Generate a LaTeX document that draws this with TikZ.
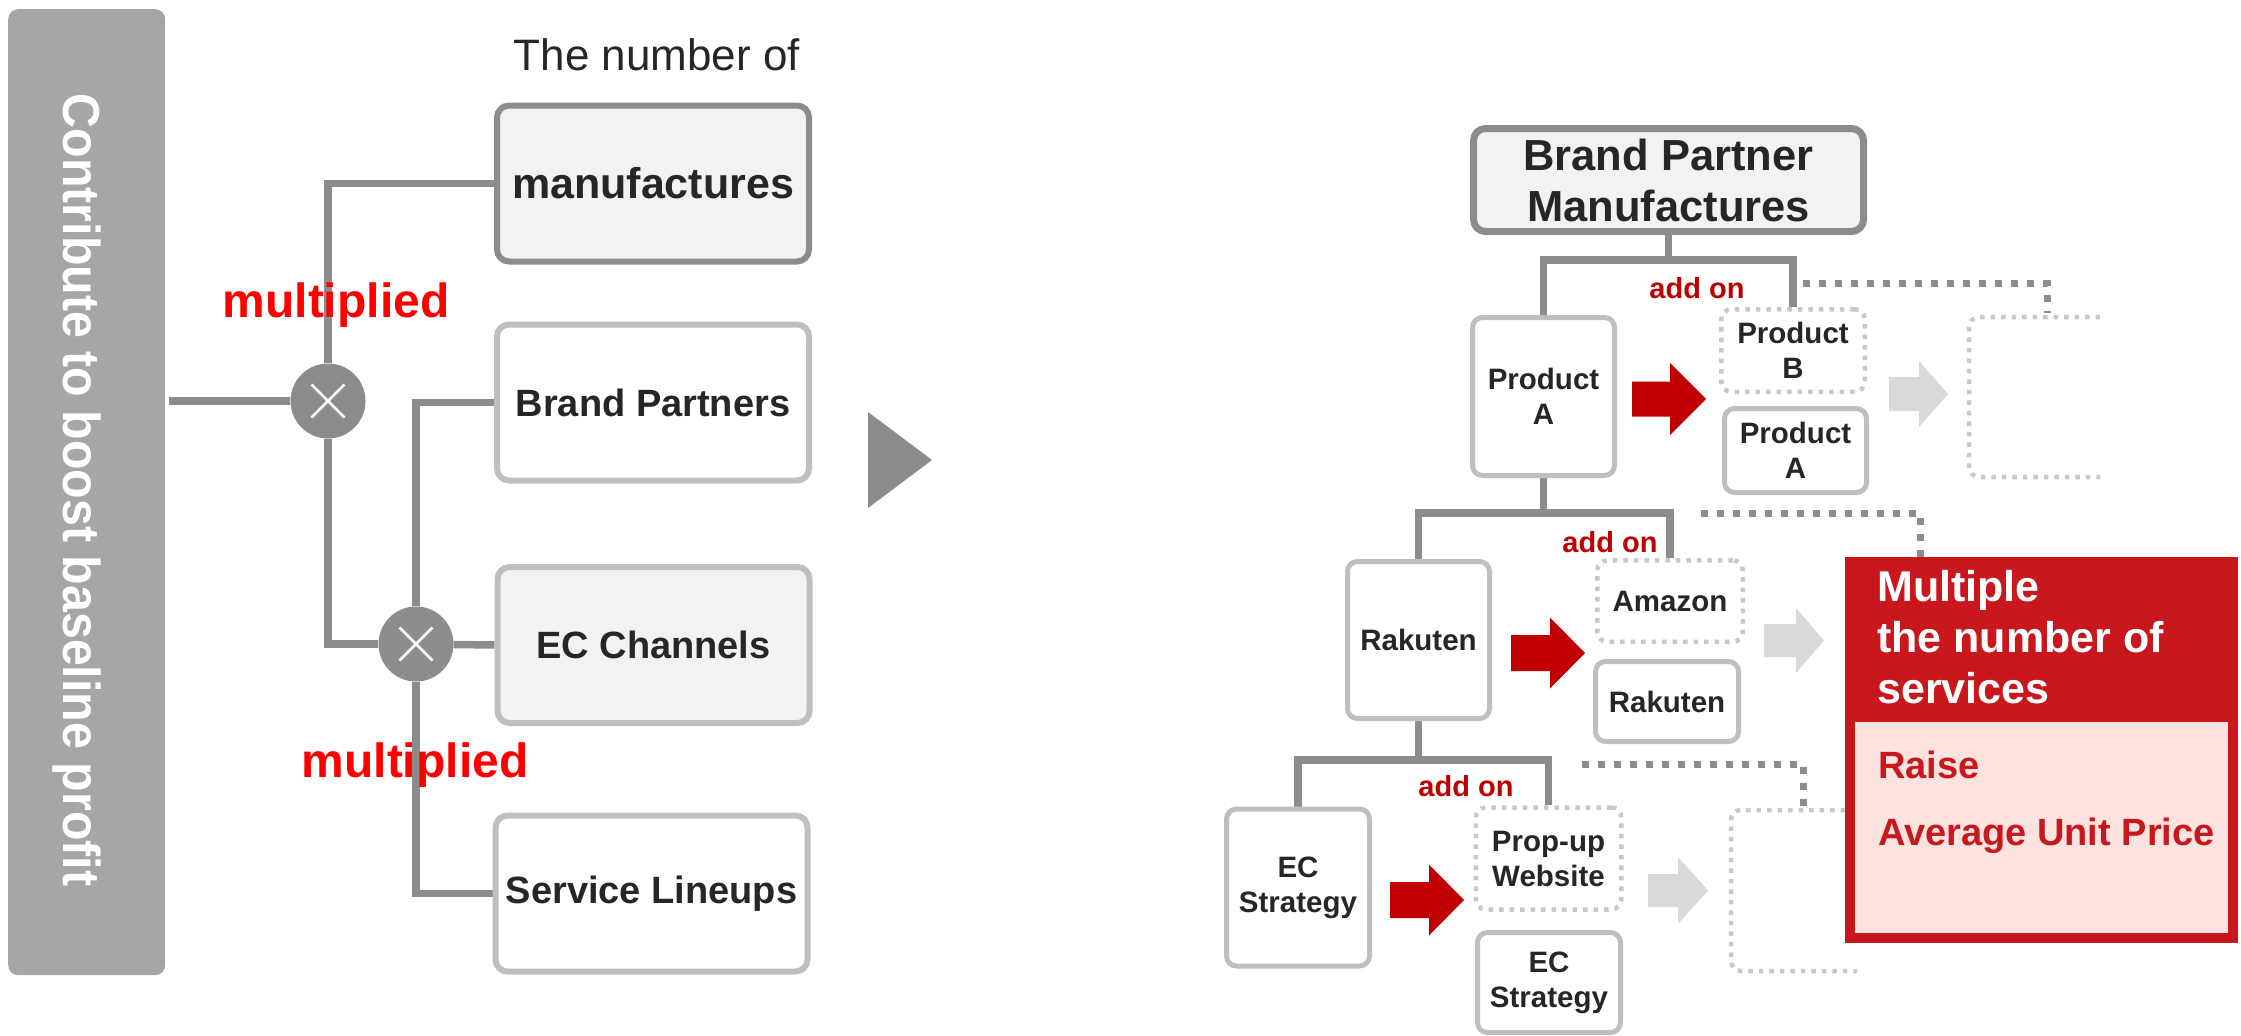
\documentclass[tikz,border=0pt]{standalone}
\usepackage{fontspec}
\setmainfont{Liberation Sans}
\usetikzlibrary{backgrounds}

\definecolor{barGray}{HTML}{A6A6A6}
\definecolor{lineGray}{HTML}{8C8C8C}
\definecolor{edgeLight}{HTML}{BFBFBF}
\definecolor{dotLight}{HTML}{C8C8C8}
\definecolor{boxFill}{HTML}{F2F2F2}
\definecolor{ink}{HTML}{262626}
\definecolor{addRed}{HTML}{C00000}
\definecolor{arrowGray}{HTML}{D9D9D9}
\definecolor{panelRed}{HTML}{C9171E}
\definecolor{panelPink}{HTML}{FDE3DF}

\newcommand\fsz[2]{\fontsize{#1}{#2}\selectfont}
% block arrow: colour, tail x, head start x, tip x, centre y, shaft half height, head half height
\newcommand\blockarrow[7]{%
  \fill[#1] (#2,#5-#6) -- (#3,#5-#6) -- (#3,#5-#7) -- (#4,#5) -- (#3,#5+#7) -- (#3,#5+#6) -- (#2,#5+#6) -- cycle;}

\begin{document}
\begin{tikzpicture}[x=1pt,y=-1pt,
  tree/.style={draw=lineGray, line width=7.5pt},
  darkdots/.style={draw=lineGray, line width=7pt, dash pattern=on 7pt off 9pt},
  lightdots/.style={draw=dotLight, line width=4.5pt, dash pattern=on 4.5pt off 6pt},
  bigbox/.style={rectangle, rounded corners=12pt, line width=6pt, minimum width=312pt,
    minimum height=156pt, inner sep=0pt, align=center, font=\bfseries\fsz{38}{44}, text=ink},
  keybox/.style={bigbox, draw=lineGray, fill=boxFill},
  plainbox/.style={bigbox, draw=edgeLight, fill=white},
  shadedbox/.style={bigbox, draw=edgeLight, fill=boxFill},
  itembox/.style={rectangle, rounded corners=10pt, line width=5pt, draw=edgeLight, fill=white,
    inner sep=0pt, align=center, font=\bfseries\fsz{29.5}{35}, text=ink},
  newbox/.style={itembox, lightdots, fill=white},
  opcircle/.style={circle, fill=lineGray, minimum size=75pt, inner sep=0pt},
  addon/.style={font=\bfseries\fsz{29}{34}, text=addRed, inner sep=0pt, anchor=base},
  mult/.style={font=\bfseries\fsz{48}{56}, text=red, inner sep=0pt, anchor=base},
  cross/.style={draw=white, line width=2.5pt}
]
\useasboundingbox (0,0) rectangle (2241,1036);

% ---------- left: profit tree ----------
\node[fill=barGray, rounded corners=10pt, minimum width=157pt, minimum height=966pt,
      inner sep=0pt, anchor=north west] (bar) at (8,9) {};
\node[rotate=-90, anchor=base, text=white, font=\bfseries\fsz{52}{60}, inner sep=0pt] (bartext) at (63,490)
  {\scalebox{0.93}[1]{Contribute to boost baseline profit}};

\node[font=\fsz{44}{50}, text=ink, inner sep=0pt, anchor=base] (caption) at (657,70) {The number of};

\node[keybox, font=\bfseries\fsz{43}{50}] (manu) at (653,183.5) {manufactures};
\node[plainbox] (bp) at (653,402.5) {Brand Partners};
\node[shadedbox] (ec) at (653.5,645) {EC Channels};
\node[plainbox] (sl) at (651.5,893.5) {Service Lineups};

\node[opcircle] (c1) at (328,401) {};
\node[opcircle] (c2) at (416,644) {};

\begin{scope}[on background layer]
  \draw[tree] ([xshift=4pt]bar.east |- c1) -- (c1);
  \draw[tree] (c1) |- (manu.west);
  \draw[tree] (c1) |- (c2);
  \draw[tree] (c2) |- (bp.west);
  \draw[tree] (c2) -- (ec.west);
  \draw[tree] (c2) |- (sl.west);
\end{scope}

\foreach \c in {c1,c2} {
  \draw[cross] ([shift={(-16.5,-16.5)}]\c.center) -- ([shift={(16.5,16.5)}]\c.center);
  \draw[cross] ([shift={(-16.5,16.5)}]\c.center) -- ([shift={(16.5,-16.5)}]\c.center);
}

\node[mult] (mult1) at (336,317) {multiplied};
\node[mult] (mult2) at (415,777) {multiplied};

% transition marker
\fill[lineGray] (868,412) -- (932,460) -- (868,508) -- cycle;

% ---------- right: add-on tree ----------
\node[rectangle, rounded corners=12pt, line width=7pt, draw=lineGray, fill=boxFill,
      minimum width=390pt, minimum height=103pt, inner sep=0pt, align=center,
      font=\bfseries\fsz{43.5}{51}, text=ink] (bpm) at (1668.5,180) {Brand Partner\\Manufactures};

% level 1
\node[itembox, minimum width=142pt, minimum height=158pt] (pa1) at (1543.5,396.5) {Product\\A};
\node[newbox, minimum width=143.5pt, minimum height=82.5pt] (pb) at (1793,350.5) {Product\\B};
\node[itembox, minimum width=142pt, minimum height=84pt] (pa2) at (1795.5,450.5) {Product\\A};
\coordinate (j1) at (1668.5,260);
\node[addon] (add1) at (1697,298) {add on};

% level 2
\node[itembox, minimum width=142pt, minimum height=157pt] (rk1) at (1418.5,640) {Rakuten};
\node[newbox, minimum width=145.5pt, minimum height=81.5pt] (az) at (1670,601) {Amazon};
\node[itembox, minimum width=143pt, minimum height=80pt] (rk2) at (1667,701.5) {Rakuten};
\coordinate (j2) at (1544,513);
\node[addon] (add2) at (1610,552) {add on};

% level 3
\node[itembox, minimum width=143pt, minimum height=157pt] (ecs1) at (1298,887.5) {EC\\Strategy};
\node[newbox, minimum width=145.5pt, minimum height=102pt] (pu) at (1548.5,858.5) {Prop-up\\Website};
\node[itembox, minimum width=143pt, minimum height=100pt] (ecs2) at (1549,982.5) {EC\\Strategy};
\coordinate (j3) at (1421,760);
\node[addon] (add3) at (1466,796) {add on};

\begin{scope}[on background layer]
  \draw[tree] (bpm.south) -- (j1);
  \draw[tree] (pa1.north) |- (j1) -| (pb.north);
  \draw[tree] (pa1.south) -- (pa1.south |- j2);
  \draw[tree] (rk1.north) |- (j2) -| (az.north);
  \draw[tree] (rk1.south) -- (rk1.south |- j3);
  \draw[tree] (ecs1.north) |- (j3) -| (pu.north);
\end{scope}

% red add-on arrows
\blockarrow{addRed}{1632}{1670}{1706}{399}{17.5}{36}
\blockarrow{addRed}{1511}{1550}{1585}{653}{18}{35.5}
\blockarrow{addRed}{1390}{1429}{1464}{900}{18}{35.5}
% grey continuation arrows
\blockarrow{arrowGray}{1889}{1919}{1948}{394}{17}{33}
\blockarrow{arrowGray}{1764}{1796}{1824}{640.5}{16.5}{32.5}
\blockarrow{arrowGray}{1648}{1678}{1708}{890.5}{16.5}{33.5}

% open brackets for the next steps
\coordinate (b1ne) at (2100,317);
\coordinate (b1nw) at (1969,317);
\coordinate (b1sw) at (1969,477);
\coordinate (b1se) at (2100,477);
\draw[lightdots, rounded corners=10pt] (b1ne) -- (b1nw) -- (b1sw) -- (b1se);
\coordinate (b2ne) at (1845,810);
\coordinate (b2nw) at (1731,810);
\coordinate (b2sw) at (1731,971);
\coordinate (b2se) at (1857,971);
\draw[lightdots, rounded corners=10pt] (b2ne) -- (b2nw) -- (b2sw) -- (b2se);

% dotted leads to the next steps
\coordinate (d1a) at (1803,283);
\coordinate (d1b) at (2047,313);
\draw[darkdots] (d1a) -| (d1b);
\coordinate (d2a) at (1701,513);
\coordinate (d2b) at (1920,557);
\draw[darkdots] (d2a) -| (d2b);
\coordinate (d3a) at (1582,764);
\coordinate (d3b) at (1803,806);
\draw[darkdots] (d3a) -| (d3b);

% result panel
\node[fill=panelRed, minimum width=393pt, minimum height=386pt, inner sep=0pt,
      anchor=north west] (panel) at (1845,557) {};
\node[fill=panelPink, minimum width=373pt, minimum height=211pt, inner sep=0pt,
      anchor=north west] (panelbody) at (1855,722) {};
\begin{scope}[every node/.style={anchor=base west, inner sep=0pt, font=\bfseries\fsz{43}{51}, text=white}]
  \node (h1) at (1877,601) {Multiple};
  \node (h2) at (1877,652) {the number of};
  \node (h3) at (1877,703) {services};
\end{scope}
\begin{scope}[every node/.style={anchor=base west, inner sep=0pt, font=\bfseries\fsz{38}{44}, text=panelRed}]
  \node (r1) at (1878,778) {Raise};
  \node (r2) at (1878,845) {Average Unit Price};
\end{scope}
\end{tikzpicture}
\end{document}
